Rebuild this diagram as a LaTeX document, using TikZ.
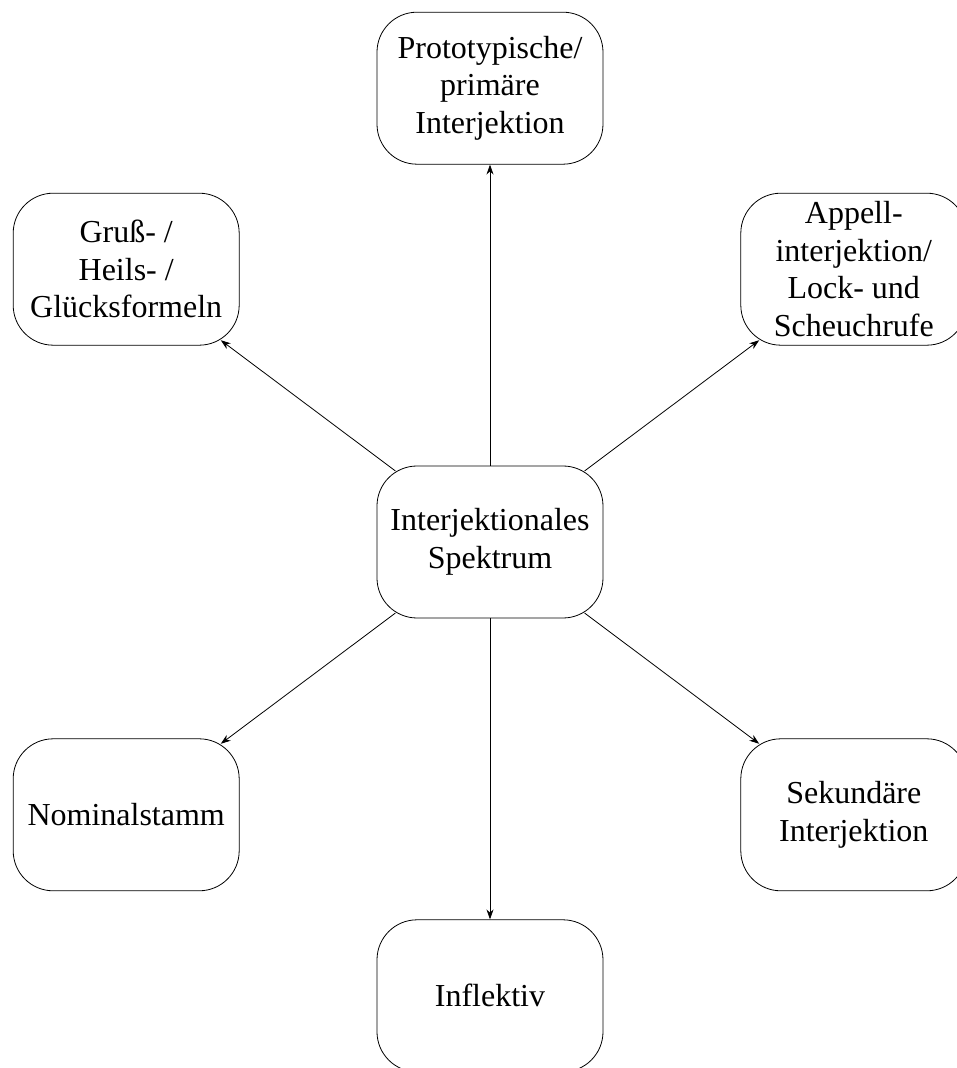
\documentclass[tikz,border=0pt]{standalone}
\usepackage{fontspec}
\setmainfont{Liberation Serif}
\usetikzlibrary{arrows.meta}
\usetikzlibrary{positioning}
\tikzset{>={Stealth[length=10pt,width=7pt]}}

\begin{document}
\begin{tikzpicture}[node distance=301pt,
    box/.style={draw, rounded corners=40pt, minimum width=226pt,
      minimum height=152pt, align=center, inner sep=4pt,
      line width=0.8pt, font=\fontsize{32}{37.5}\selectfont},
    every edge/.style={draw, line width=0.8pt}]
    \useasboundingbox (-490pt,-526pt) rectangle (467pt,542pt);

    \node[box] (spektrum) {Interjektionales\\Spektrum};
    \node[box] (primaer) [above=of spektrum] {Prototypische/\\primäre\\Interjektion};
    \node[box] (inflektiv) [below=of spektrum] {Inflektiv};
    \node[box] (gruss) [above left=120pt and 137pt of spektrum] {Gruß- /\\Heils- /\\Glücksformeln};
    \node[box] (appell) [above right=120pt and 137pt of spektrum] {Appell-\\interjektion/\\Lock- und\\Scheuchrufe};
    \node[box] (nominal) [below left=120pt and 137pt of spektrum] {Nominalstamm};
    \node[box] (sekundaer) [below right=120pt and 137pt of spektrum] {Sekundäre\\Interjektion};

    % diagonals reach into the rounded corners
    \path[->] (spektrum) edge (primaer);
    \path[->] (spektrum) edge (inflektiv);
    \path[->] (spektrum) edge [shorten <=-9pt, shorten >=-9pt] (gruss);
    \path[->] (spektrum) edge [shorten <=-9pt, shorten >=-9pt] (appell);
    \path[->] (spektrum) edge [shorten <=-9pt, shorten >=-9pt] (nominal);
    \path[->] (spektrum) edge [shorten <=-9pt, shorten >=-9pt] (sekundaer);
  \end{tikzpicture}
\end{document}
